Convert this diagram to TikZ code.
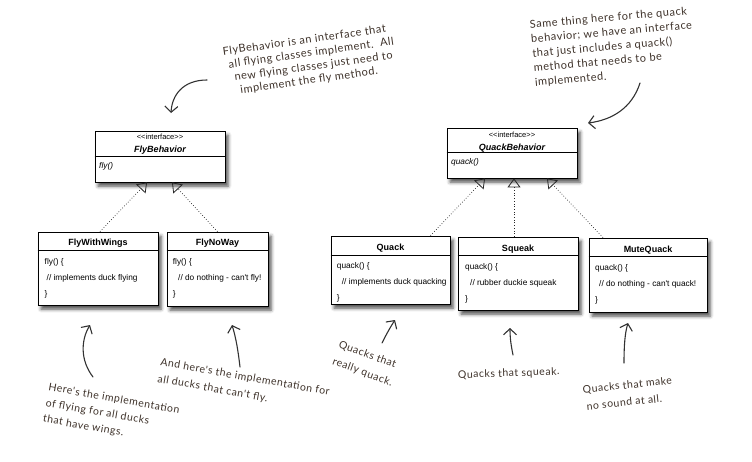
\documentclass[tikz,border=0pt]{standalone}
\usepackage{fontspec}
\setmainfont{Liberation Sans}[Ligatures=TeXOff]
\newfontfamily\handfont{Lato}[LetterSpace=5]
\usetikzlibrary{arrows.meta,calc,shadows.blur}
\definecolor{ink}{RGB}{62,50,42}
\definecolor{arrowink}{RGB}{50,50,50}
\begin{document}
\begin{tikzpicture}[x=1pt,y=-1pt,
  umlbox/.style={draw=black, line width=0.8pt, fill=white, inner sep=0pt,
    blur shadow={shadow xshift=3pt, shadow yshift=-4pt, shadow blur radius=3.5pt, shadow opacity=70}},
  sepline/.style={draw=black, line width=0.7pt},
  title/.style={font=\fontsize{9}{10}\selectfont\bfseries, inner sep=0pt, anchor=base},
  stereo/.style={font=\fontsize{7.5}{9}\selectfont, inner sep=0pt, anchor=base},
  iname/.style={font=\fontsize{9}{10}\selectfont\bfseries\itshape, inner sep=0pt, anchor=base},
  meth/.style={font=\fontsize{8.3}{10}\selectfont, inner sep=0pt, anchor=base west},
  imeth/.style={font=\fontsize{8.3}{10}\selectfont\itshape, inner sep=0pt, anchor=base west},
  realize/.style={draw=black!85, line width=0.7pt, dotted,
    -{Triangle[open, length=9pt, width=13pt, line width=0.8pt]}},
  note/.style={font=\handfont\fontsize{11}{13.5}\selectfont, text=ink, inner sep=0pt, align=left, anchor=north west},
  hand/.style={draw=arrowink, line width=1.1pt, line cap=round,
    -{Straight Barb[length=6pt, width=13pt, line width=1.1pt]}},
]
\useasboundingbox (0,0) rectangle (752,461);

% ---------- interfaces ----------
\node[umlbox, minimum width=130pt, minimum height=51pt] (fb) at (160,156.5) {};
\draw[sepline] ($(fb.north west)+(0,26)$) -- ($(fb.north east)+(0,26)$);
\node[stereo] (fbst) at (160,139.3) {<<interface>>};
\node[iname] (fbnm) at (160,152.7) {FlyBehavior};
\node[imeth] (fbm) at (99,168.3) {fly()};

\node[umlbox, minimum width=130pt, minimum height=50pt] (qb) at (512,153) {};
\draw[sepline] ($(qb.north west)+(0,25)$) -- ($(qb.north east)+(0,25)$);
\node[stereo] (qbst) at (512,137.3) {<<interface>>};
\node[iname] (qbnm) at (512,150) {QuackBehavior};
\node[imeth] (qbm) at (451,164.3) {quack()};

% ---------- fly classes ----------
\node[umlbox, minimum width=120pt, minimum height=73pt] (fww) at (98,268.5) {};
\draw[sepline] ($(fww.north west)+(0,19)$) -- ($(fww.north east)+(0,19)$);
\node[title] (fwwt) at (98,245) {FlyWithWings};
\node[meth] (fww1) at (44.5,264) {fly() \{};
\node[meth] (fww2) at (46.5,280) {// implements duck flying};
\node[meth] (fww3) at (44.5,296) {\}};

\node[umlbox, minimum width=101pt, minimum height=74pt] (fnw) at (217.5,269) {};
\draw[sepline] ($(fnw.north west)+(0,19)$) -- ($(fnw.north east)+(0,19)$);
\node[title] (fnwt) at (217.5,245) {FlyNoWay};
\node[meth] (fnw1) at (172.7,264) {fly() \{};
\node[meth] (fnw2) at (178,280) {// do nothing - can't fly!};
\node[meth] (fnw3) at (172.7,296) {\}};

% ---------- quack classes ----------
\node[umlbox, minimum width=119pt, minimum height=68pt] (qk) at (390.5,270) {};
\draw[sepline] ($(qk.north west)+(0,20)$) -- ($(qk.north east)+(0,20)$);
\node[title] (qkt) at (390.5,250) {Quack};
\node[meth] (qk1) at (336.7,268.5) {quack() \{};
\node[meth] (qk2) at (341.7,284) {// implements duck quacking};
\node[meth] (qk3) at (336.7,300) {\}};

\node[umlbox, minimum width=120pt, minimum height=73pt] (sq) at (518,273.5) {};
\draw[sepline] ($(sq.north west)+(0,19)$) -- ($(sq.north east)+(0,19)$);
\node[title] (sqt) at (518,251) {Squeak};
\node[meth] (sq1) at (465,269) {quack() \{};
\node[meth] (sq2) at (470,285) {// rubber duckie squeak};
\node[meth] (sq3) at (465,301) {\}};

\node[umlbox, minimum width=118pt, minimum height=74pt] (mq) at (648,275) {};
\draw[sepline] ($(mq.north west)+(0,19)$) -- ($(mq.north east)+(0,19)$);
\node[title] (mqt) at (648,252) {MuteQuack};
\node[meth] (mq1) at (595,270) {quack() \{};
\node[meth] (mq2) at (599,286) {// do nothing - can't quack!};
\node[meth] (mq3) at (595,302) {\}};

% ---------- realization connectors ----------
\coordinate (qbmid) at ($(qb.south)+(2,0)$);
\draw[realize] ($(fww.north)+(2,0)$) -- ($(fb.south)+(-13,0)$);
\draw[realize] (fnw.north) -- ($(fb.south)+(12,0)$);
\draw[realize] ($(qk.north)+(40,0)$) -- ($(qb.south)+(-27,0)$);
\draw[realize] (sq.north -| qbmid) -- (qbmid);
\draw[realize] ($(mq.north)+(-45,0)$) -- ($(qb.south)+(35,0)$);

% ---------- notes ----------
\node[note, rotate=8] (n1) at (222,47) {FlyBehavior is an interface that\\
\hspace*{4pt}all flying classes implement.\ \ All\\
\hspace*{8pt}new flying classes just need to\\
\hspace*{12pt}implement the fly method.};

\node[note, rotate=5, font=\handfont\fontsize{11}{14.5}\selectfont] (n2) at (529.3,20) {Same thing here for the quack\\
behavior; we have an interface\\
that just includes a quack()\\
method that needs to be\\
implemented.};

\node[note, rotate=-10, font=\handfont\fontsize{10.5}{16}\selectfont] (n3) at (49.3,382.6) {Here's the implementation\\
of flying for all ducks\\
that have wings.};

\node[note, rotate=-10, font=\handfont\fontsize{10.5}{17}\selectfont] (n4) at (161.3,357.6) {And here's the implementation for\\
all ducks that can't fly.};

\node[note, rotate=-20, font=\handfont\fontsize{10.5}{18}\selectfont] (n5) at (340.6,340) {Quacks that\\
really quack.};

\node[note, rotate=2, font=\handfont\fontsize{10.5}{13}\selectfont] (n6) at (457.7,370.5) {Quacks that squeak.};

\node[note, rotate=6, font=\handfont\fontsize{10.5}{17}\selectfont] (n7) at (582.2,385.5) {Quacks that make\\
\hspace*{2pt}no sound at all.};

% ---------- hand-drawn arrows ----------
\coordinate (a1s) at (207,80);   \coordinate (a1e) at (171,113);
\coordinate (a2s) at (640,83);   \coordinate (a2e) at (588,123);
\coordinate (a3s) at (93,377);   \coordinate (a3e) at (90,325);
\coordinate (a4s) at (240,367);  \coordinate (a4e) at (232,325);
\coordinate (a5s) at (382,343);  \coordinate (a5e) at (395,320);
\coordinate (a6s) at (513,355);  \coordinate (a6e) at (510,328);
\coordinate (a7s) at (624,363);  \coordinate (a7e) at (628,323);
\draw[hand] (a1s) .. controls (183,80) and (172,95) .. (a1e);
\draw[hand] (a2s) .. controls (632,108) and (612,120) .. (a2e);
\draw[hand] (a3s) .. controls (80,360) and (81,340) .. (a3e);
\draw[hand] (a4s) .. controls (238,350) and (236,338) .. (a4e);
\draw[hand] (a5s) .. controls (387,333) and (391,326) .. (a5e);
\draw[hand] (a6s) .. controls (511,345) and (510,338) .. (a6e);
\draw[hand] (a7s) .. controls (624,345) and (625,333) .. (a7e);
\end{tikzpicture}
\end{document}
